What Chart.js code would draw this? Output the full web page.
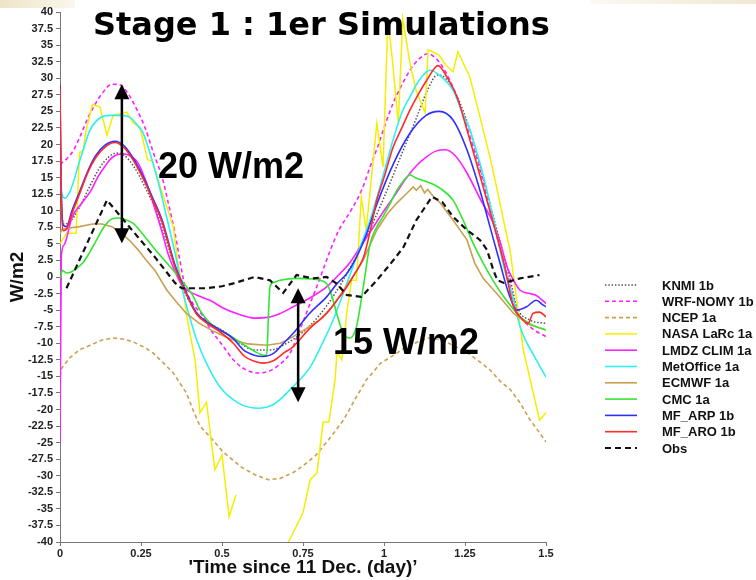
<!DOCTYPE html>
<html>
<head>
<meta charset="utf-8">
<script src="https://cdn.jsdelivr.net/npm/chart.js@4.4.1/dist/chart.umd.min.js"></script>
<style>
  html, body { margin: 0; padding: 0; background: #ffffff; }
  #wrap { position: relative; width: 756px; height: 580px; }
</style>
</head>
<body>
<div id="wrap"><canvas id="c" width="756" height="580"></canvas></div>
<script>
// Net radiation (W/m2) against time since 11 Dec. (day), stage 1 runs
const seriesNames = ['KNMI 1b', 'WRF-NOMY 1b', 'NCEP 1a', 'NASA LaRc 1a', 'LMDZ CLIM 1a',
  'MetOffice 1a', 'ECMWF 1a', 'CMC 1a', 'MF_ARP 1b', 'MF_ARO 1b', 'Obs'];

const xTickLabels = ['0', '0.25', '0.5', '0.75', '1', '1.25', '1.5'];

const knmi = [[0,27.5],[0.004,12],[0.012,8],[0.03,8.3],[0.06,10.5],[0.09,13.5],[0.12,16.3],[0.15,18.1],[0.175,18.7],[0.2,18.3],[0.23,16.5],[0.26,13.8],[0.3,9.6],[0.33,5.2],[0.36,0.8],[0.39,-2.8],[0.42,-5.3],[0.45,-6.7],[0.5,-8],[0.55,-9.8],[0.6,-11],[0.65,-11],[0.7,-10],[0.75,-8.3],[0.8,-5.8],[0.85,-2.4],[0.9,1.8],[0.95,6.5],[1.0,12],[1.05,18],[1.1,24],[1.135,28.3],[1.165,30.5],[1.19,30],[1.225,27.3],[1.265,22.2],[1.3,16],[1.33,10.5],[1.36,5],[1.39,-0.5],[1.41,-4.5],[1.45,-6.5],[1.5,-7]];

const wrfNomy = [[0,17],[0.02,17.8],[0.04,19],[0.06,21],[0.088,24.2],[0.11,26.2],[0.13,27.7],[0.16,29.1],[0.185,29],[0.21,27.7],[0.235,25.5],[0.262,22.6],[0.29,18.5],[0.315,15.1],[0.335,11],[0.355,6.6],[0.37,2.5],[0.386,-1.5],[0.41,-4],[0.44,-5.8],[0.463,-7.8],[0.5,-10.2],[0.535,-12.5],[0.57,-13.9],[0.61,-14.5],[0.645,-14.2],[0.67,-13.5],[0.71,-11.5],[0.74,-8],[0.772,-4],[0.8,-0.5],[0.83,3.5],[0.86,7],[0.9,10.2],[0.93,13],[0.96,17],[0.98,19.6],[1.0,22.5],[1.028,26.2],[1.055,29],[1.08,31.2],[1.11,33],[1.136,33.7],[1.16,33],[1.18,31.8],[1.2,30],[1.225,27.2],[1.26,22],[1.3,15.5],[1.33,9.5],[1.36,4],[1.39,-1.5],[1.41,-5],[1.45,-7.5],[1.5,-9]];

const ncep = [[0,-15],[0.005,-13.8],[0.03,-12.2],[0.06,-11],[0.093,-10.3],[0.13,-9.5],[0.164,-9.2],[0.2,-9.4],[0.226,-9.8],[0.26,-10.6],[0.288,-11.5],[0.32,-13],[0.35,-14.5],[0.37,-16],[0.39,-17.5],[0.41,-20],[0.432,-22.5],[0.47,-24.5],[0.503,-26.4],[0.53,-27.5],[0.56,-28.7],[0.6,-29.8],[0.643,-30.6],[0.68,-30.4],[0.72,-29.5],[0.75,-28.5],[0.79,-26.9],[0.83,-24.5],[0.875,-21.6],[0.91,-18.5],[0.946,-15.5],[0.99,-13],[1.03,-11.8],[1.07,-10.5],[1.12,-9.5],[1.14,-9.2],[1.17,-9.4],[1.2,-10],[1.25,-11.2],[1.29,-12.6],[1.327,-14],[1.36,-15.8],[1.39,-17],[1.42,-19],[1.45,-21.5],[1.48,-23.5],[1.5,-24.9]];

// null marks the break in the NASA record
const nasaLarc = [[0,5],[0.02,6.6],[0.05,6.6],[0.06,18.7],[0.072,19.2],[0.08,22],[0.1,26],[0.123,25.7],[0.145,21.4],[0.164,24.4],[0.206,24.9],[0.226,23.2],[0.247,22.6],[0.27,17.7],[0.285,17.5],[0.31,13.5],[0.333,10.1],[0.35,7.5],[0.364,2.1],[0.38,-2],[0.395,-7],[0.417,-12.5],[0.432,-20.5],[0.452,-18.9],[0.478,-29.1],[0.5,-26.9],[0.522,-36.2],[0.543,-32.9],[0.6,null],[0.695,-41],[0.75,-35.6],[0.772,-30.6],[0.793,-29.6],[0.812,-21.9],[0.83,-21.9],[0.849,-15.5],[0.855,-11.3],[0.87,-12.5],[0.886,-5],[0.9,-0.5],[0.915,-0.5],[0.93,12],[0.945,7.1],[0.978,23.2],[0.997,16.6],[1.012,39],[1.025,33.2],[1.044,23.2],[1.058,39],[1.08,32.3],[1.1,28],[1.127,24.8],[1.136,34.3],[1.15,34],[1.17,33.5],[1.19,32],[1.213,31],[1.228,34],[1.265,30.2],[1.296,24.2],[1.327,18.1],[1.35,13],[1.373,7.6],[1.389,4.1],[1.43,-11],[1.48,-21.6],[1.5,-20.5]];

const lmdzClim = [[0,-25],[0.004,3],[0.012,4.8],[0.037,9],[0.068,11.2],[0.095,13],[0.117,15.1],[0.14,16.8],[0.16,18],[0.195,18.6],[0.22,18.2],[0.241,17.2],[0.265,14.5],[0.293,10.3],[0.315,6.8],[0.333,3.6],[0.355,0.8],[0.376,-1.2],[0.4,-2.2],[0.44,-3.1],[0.47,-3.7],[0.5,-4.6],[0.55,-5.6],[0.6,-6.2],[0.64,-6.1],[0.68,-5.5],[0.72,-4.5],[0.77,-3.2],[0.823,-1.5],[0.86,0.3],[0.895,2.2],[0.926,4.5],[0.96,7],[1.0,10],[1.03,12.1],[1.07,15],[1.1,16.8],[1.13,18.1],[1.16,19],[1.19,19.2],[1.22,18.3],[1.256,15.7],[1.3,11.5],[1.337,8.2],[1.36,5],[1.38,1.5],[1.4,-0.5],[1.42,-2],[1.45,-2.5],[1.47,-2.8],[1.5,-4]];

const metOffice = [[0,15.5],[0.006,12.5],[0.015,11.9],[0.03,12.8],[0.062,17.7],[0.093,22.2],[0.123,24],[0.154,24.4],[0.185,24.4],[0.216,24.1],[0.241,22.8],[0.256,21.8],[0.284,17.7],[0.305,14],[0.324,10.1],[0.355,3.6],[0.38,-2.4],[0.4,-6],[0.422,-9.5],[0.45,-12.8],[0.494,-16.6],[0.55,-19],[0.608,-19.8],[0.66,-19.2],[0.71,-17],[0.772,-13.6],[0.81,-10],[0.843,-6.5],[0.885,-1],[0.926,4.5],[0.957,8.6],[0.99,14],[1.028,20.7],[1.055,24.8],[1.08,27.2],[1.11,29.8],[1.142,31.2],[1.17,30.5],[1.213,28.2],[1.24,25],[1.265,22.2],[1.3,16.5],[1.33,10.5],[1.37,1.5],[1.4,-3.5],[1.42,-7.5],[1.47,-12.5],[1.5,-15.1]];

const ecmwf = [[0,6.5],[0.006,7.2],[0.03,7.4],[0.06,7.6],[0.1,8],[0.13,8],[0.16,7.6],[0.19,6.6],[0.215,5.5],[0.241,4.1],[0.265,2.6],[0.293,1],[0.33,-2],[0.36,-3.8],[0.39,-5.5],[0.43,-7],[0.47,-8.1],[0.5,-8.8],[0.535,-9.5],[0.58,-10.1],[0.638,-10.3],[0.68,-10],[0.72,-9],[0.76,-7.8],[0.8,-6.5],[0.84,-4.5],[0.875,-2],[0.91,0.5],[0.936,2.6],[0.978,7.1],[1.01,9.5],[1.04,11.2],[1.07,12.6],[1.09,13.6],[1.1,13.1],[1.113,13.8],[1.125,12.7],[1.135,13.2],[1.15,12.3],[1.173,11.2],[1.213,8.6],[1.256,5.6],[1.28,2.1],[1.306,-0.2],[1.35,-2.6],[1.4,-5.5],[1.45,-7.2],[1.5,-8]];

const cmc = [[0,-0.2],[0.008,1],[0.02,0.6],[0.036,0.8],[0.07,2.1],[0.09,3.6],[0.113,5.6],[0.135,7.5],[0.154,8.6],[0.175,8.9],[0.2,8.7],[0.226,8.1],[0.25,6.8],[0.278,5.1],[0.305,3.5],[0.33,2.1],[0.37,-0.2],[0.41,-2.8],[0.432,-5],[0.46,-6.8],[0.494,-8],[0.53,-9],[0.57,-10.3],[0.6,-11.2],[0.63,-11.8],[0.638,-11.8],[0.644,-5],[0.648,-1.5],[0.66,-0.8],[0.679,-0.5],[0.73,-0.2],[0.78,-0.3],[0.802,-0.5],[0.823,-1],[0.84,-3],[0.854,-5.5],[0.874,-8.5],[0.895,-9.2],[0.915,-7.5],[0.936,-1.5],[0.957,5],[0.977,7.5],[0.997,9.1],[1.02,11.2],[1.04,13.1],[1.06,14.5],[1.08,15.4],[1.1,14.9],[1.142,14.2],[1.173,13.4],[1.213,11.6],[1.244,8.6],[1.275,5.1],[1.306,2.1],[1.34,-0.8],[1.37,-3],[1.42,-6],[1.46,-7.3],[1.5,-8]];

const mfArp = [[0,29],[0.003,15],[0.01,7.8],[0.02,7.6],[0.037,10],[0.06,12.8],[0.086,16],[0.11,18.3],[0.139,19.9],[0.17,20.5],[0.2,19.7],[0.23,17.6],[0.262,14.6],[0.29,11.5],[0.315,8.6],[0.355,1.8],[0.39,-2.4],[0.42,-5.3],[0.46,-7],[0.494,-8],[0.535,-9.3],[0.566,-11],[0.6,-11.8],[0.625,-12],[0.66,-11.5],[0.69,-10],[0.72,-8.5],[0.77,-5.5],[0.823,-3],[0.855,-1],[0.885,0.5],[0.91,2.5],[0.946,6.5],[0.978,11],[1.03,17.2],[1.08,21.7],[1.13,24.4],[1.17,25],[1.213,23.7],[1.256,19.2],[1.296,13.1],[1.327,7.6],[1.358,2.1],[1.385,-2.5],[1.41,-5],[1.44,-4.5],[1.47,-3.5],[1.49,-4.2],[1.5,-4.5]];

const mfAro = [[0,28.5],[0.003,15],[0.01,7],[0.02,7.2],[0.037,9.6],[0.06,12.5],[0.086,15.8],[0.11,18],[0.139,19.6],[0.17,20.3],[0.2,19.4],[0.23,17.3],[0.262,14.3],[0.29,11.2],[0.315,8.3],[0.355,1.5],[0.39,-2.6],[0.42,-5.5],[0.46,-7.2],[0.494,-8.3],[0.535,-10],[0.57,-12],[0.6,-12.7],[0.627,-13],[0.66,-12.6],[0.69,-11.5],[0.72,-10.5],[0.77,-7.8],[0.823,-5.5],[0.855,-3.5],[0.885,-1.5],[0.91,0.5],[0.937,3],[0.96,7.5],[0.977,11.5],[1.0,15],[1.028,19.6],[1.055,22.5],[1.08,25.2],[1.105,27.5],[1.132,29.7],[1.167,31.9],[1.194,30.2],[1.225,27.2],[1.265,20.7],[1.306,13.6],[1.337,8.2],[1.37,2.1],[1.4,-4.5],[1.42,-6],[1.445,-7],[1.46,-5.5],[1.48,-5.3],[1.5,-6]];

const obs = [[0.02,-1.7],[0.145,11.6],[0.222,7.1],[0.293,3],[0.355,-0.9],[0.376,-1.7],[0.448,-1.7],[0.5,-1.4],[0.54,-0.9],[0.6,0],[0.648,-0.5],[0.689,-2.4],[0.73,0.3],[0.78,-0.2],[0.823,0],[0.854,-1],[0.885,-2.7],[0.93,-3],[0.978,-0.5],[1.03,2.6],[1.06,4.5],[1.1,8.6],[1.148,12.1],[1.18,11.3],[1.213,9.1],[1.256,7.1],[1.296,5.6],[1.318,4.1],[1.337,1.1],[1.35,-0.5],[1.37,-0.9],[1.42,-0.2],[1.48,0.3]];

const seriesValues = [knmi, wrfNomy, ncep, nasaLarc, lmdzClim, metOffice, ecmwf, cmc, mfArp, mfAro, obs];

// line styles per series: colour, width, dash, smoothing
const styles = [
  { color: '#555555', width: 1.5, dash: [1.5, 1.8], smooth: true },
  { color: '#ff20ff', width: 1.6, dash: [4, 3], smooth: true },
  { color: '#c9a050', width: 1.6, dash: [4, 3], smooth: false },
  { color: '#f6ee00', width: 1.5, dash: [], smooth: false },
  { color: '#ff20ff', width: 1.6, dash: [], smooth: true },
  { color: '#2ef0f0', width: 1.6, dash: [], smooth: true },
  { color: '#c9a050', width: 1.6, dash: [], smooth: false },
  { color: '#33e633', width: 1.6, dash: [], smooth: true },
  { color: '#2f2fff', width: 1.6, dash: [], smooth: true },
  { color: '#ff2a2a', width: 1.6, dash: [], smooth: true },
  { color: '#111111', width: 2.2, dash: [6, 4], smooth: false }
];

const FONT = "'Liberation Sans', Arial, Helvetica, sans-serif";

const datasets = seriesNames.map((name, i) => ({
  label: name,
  data: seriesValues[i].map(p => ({ x: p[0], y: p[1] })),
  borderColor: styles[i].color,
  borderWidth: styles[i].width,
  borderDash: styles[i].dash,
  pointRadius: 0,
  fill: false,
  spanGaps: false,
  tension: 0,
  cubicInterpolationMode: styles[i].smooth ? 'monotone' : 'default',
  clip: 0,
  order: seriesNames.length - i
}));

// slide backdrop, title, arrows, notes and legend
const overlay = {
  id: 'overlay',
  beforeDraw(chart) {
    const ctx = chart.ctx;
    ctx.save();
    ctx.fillStyle = '#ffffff';
    ctx.fillRect(0, 0, chart.width, chart.height);
    let g = ctx.createLinearGradient(0, 0, 75, 0);
    g.addColorStop(0, '#eee4c8');
    g.addColorStop(1, 'rgba(238,228,200,0.3)');
    ctx.fillStyle = g;
    ctx.fillRect(0, 0, 75, 8);
    g = ctx.createLinearGradient(590, 0, 756, 0);
    g.addColorStop(0, 'rgba(238,228,200,0.2)');
    g.addColorStop(1, '#f0e8d2');
    ctx.fillStyle = g;
    ctx.fillRect(590, 0, 166, 4);
    ctx.restore();
  },
  afterDraw(chart) {
    const ctx = chart.ctx;
    const xs = chart.scales.x, ys = chart.scales.y;
    ctx.save();

    // heading
    const head = 'Stage 1 : 1er Simulations';
    ctx.fillStyle = '#000';
    ctx.textBaseline = 'alphabetic';
    ctx.textAlign = 'left';
    ctx.font = "bold 32px 'Comic Sans MS', 'DejaVu Sans', sans-serif";
    const w = ctx.measureText(head).width;
    const size = 32 * 456 / w;
    ctx.font = "bold " + size.toFixed(1) + "px 'Comic Sans MS', 'DejaVu Sans', sans-serif";
    ctx.fillText(head, 93, 35);

    // double-headed arrows spanning the spread of the runs
    const arrows = [
      { t: 0.191, top: 29.1, bottom: 5.1 },
      { t: 0.735, top: -1.7, bottom: -18.9 }
    ];
    arrows.forEach(a => {
      const x = xs.getPixelForValue(a.t);
      const y1 = ys.getPixelForValue(a.top);
      const y2 = ys.getPixelForValue(a.bottom);
      const hh = 15, hw = 7.5;
      ctx.strokeStyle = '#000';
      ctx.lineWidth = 2.5;
      ctx.setLineDash([]);
      ctx.beginPath();
      ctx.moveTo(x, y1 + hh - 2);
      ctx.lineTo(x, y2 - hh + 2);
      ctx.stroke();
      ctx.fillStyle = '#000';
      ctx.beginPath();
      ctx.moveTo(x, y1); ctx.lineTo(x - hw, y1 + hh); ctx.lineTo(x + hw, y1 + hh); ctx.closePath();
      ctx.fill();
      ctx.beginPath();
      ctx.moveTo(x, y2); ctx.lineTo(x - hw, y2 - hh); ctx.lineTo(x + hw, y2 - hh); ctx.closePath();
      ctx.fill();
    });

    ctx.font = "bold 36px " + FONT;
    ctx.fillStyle = '#000';
    ctx.fillText('20 W/m2', 158, 178);
    ctx.fillText('15 W/m2', 333, 354);

    // legend
    ctx.font = "bold 13px " + FONT;
    ctx.textBaseline = 'middle';
    chart.data.datasets.forEach((ds, i) => {
      const y = 285 + i * 16.3;
      ctx.strokeStyle = ds.borderColor;
      ctx.lineWidth = ds.borderWidth;
      ctx.setLineDash(ds.borderDash || []);
      ctx.beginPath();
      ctx.moveTo(605, y);
      ctx.lineTo(637, y);
      ctx.stroke();
      ctx.setLineDash([]);
      ctx.fillStyle = '#111';
      ctx.fillText(ds.label, 662, y + 1);
    });
    ctx.restore();
  }
};

new Chart(document.getElementById('c'), {
  type: 'line',
  data: { datasets },
  options: {
    responsive: false,
    animation: false,
    devicePixelRatio: 1,
    layout: { padding: { top: 12, right: 210, left: 0, bottom: 0 } },
    plugins: { legend: { display: false }, tooltip: { enabled: false } },
    scales: {
      x: {
        type: 'linear',
        min: 0, max: 1.5,
        afterFit: s => { s.height = 38; },
        grid: { display: true, drawOnChartArea: false, drawTicks: true, tickLength: 4, color: '#777' },
        border: { display: true, color: '#777', width: 1 },
        ticks: { stepSize: 0.25, autoSkip: false, maxRotation: 0, padding: 1, color: '#222',
                 callback: (v, i) => xTickLabels[i],
                 font: { family: FONT, size: 11, weight: 'bold' } },
        title: { display: true, text: "'Time since 11 Dec. (day)\u2019", color: '#111',
                 font: { family: FONT, size: 19, weight: 'bold' }, padding: { top: 0, bottom: 1 } }
      },
      y: {
        min: -40, max: 40,
        afterFit: s => { s.width = 60; },
        grid: { display: true, drawOnChartArea: false, drawTicks: true, tickLength: 4, color: '#777' },
        border: { display: true, color: '#777', width: 1 },
        ticks: { stepSize: 2.5, autoSkip: false, padding: 3, color: '#222',
                 font: { family: FONT, size: 11, weight: 'bold' } },
        title: { display: true, text: 'W/m2', color: '#111',
                 font: { family: FONT, size: 19, weight: 'bold' }, padding: { top: 6, bottom: 0 } }
      }
    }
  },
  plugins: [overlay]
});
</script>
</body>
</html>
